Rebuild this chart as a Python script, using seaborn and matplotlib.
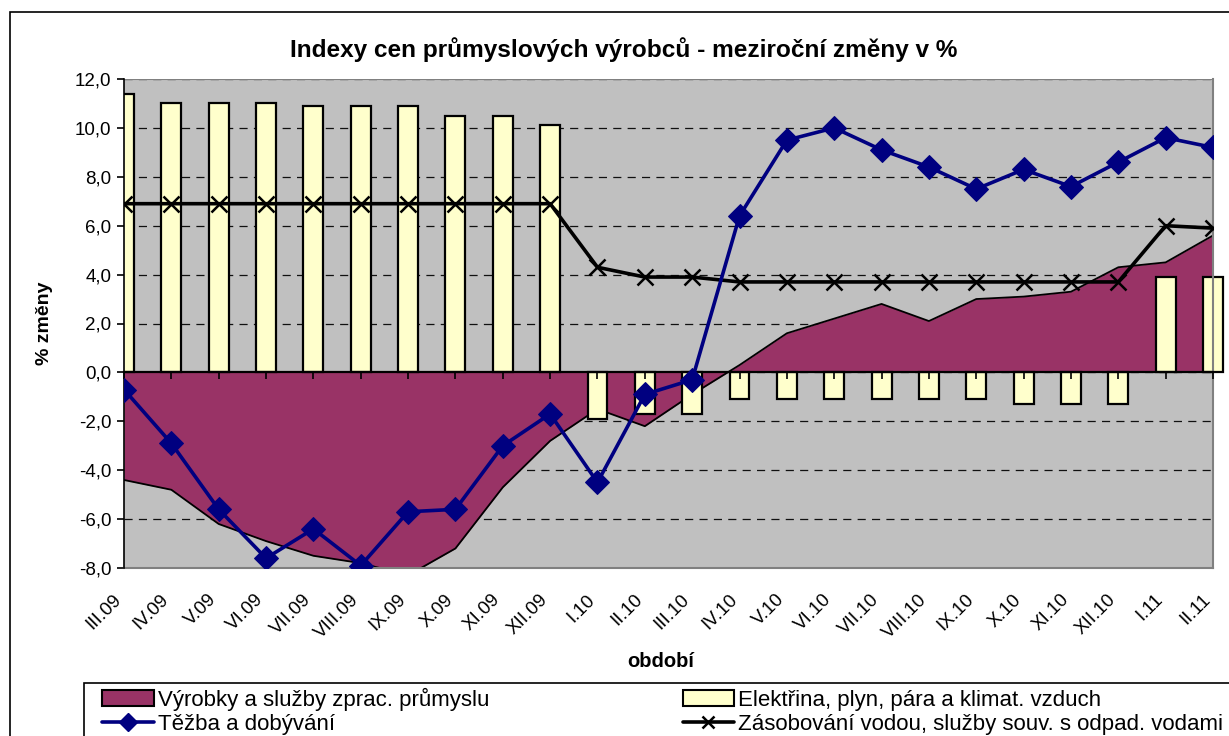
import numpy as np
import pandas as pd
import matplotlib
matplotlib.use('Agg')
import matplotlib.pyplot as plt
import matplotlib.patches as mpatches
import matplotlib.lines as mlines
from matplotlib.transforms import ScaledTranslation
import seaborn as sns

# data - mezirocni zmeny v %
obdobi = ['III.09', 'IV.09', 'V.09', 'VI.09', 'VII.09', 'VIII.09', 'IX.09', 'X.09',
          'XI.09', 'XII.09', 'I.10', 'II.10', 'III.10', 'IV.10', 'V.10', 'VI.10',
          'VII.10', 'VIII.10', 'IX.10', 'X.10', 'XI.10', 'XII.10', 'I.11', 'II.11']
vyrobky = [-4.4, -4.8, -6.2, -6.9, -7.5, -7.8, -8.3, -7.2, -4.7, -2.8, -1.5, -2.2,
           -0.9, 0.3, 1.6, 2.2, 2.8, 2.1, 3.0, 3.1, 3.3, 4.3, 4.5, 5.6]
elektrina = [11.4, 11.0, 11.0, 11.0, 10.9, 10.9, 10.9, 10.5, 10.5, 10.1, -1.9, -1.7,
             -1.7, -1.1, -1.1, -1.1, -1.1, -1.1, -1.1, -1.3, -1.3, -1.3, 3.9, 3.9]
tezba = [-0.7, -2.9, -5.6, -7.6, -6.4, -7.9, -5.7, -5.6, -3.0, -1.7, -4.5, -0.9,
         -0.3, 6.4, 9.5, 10.0, 9.1, 8.4, 7.5, 8.3, 7.6, 8.6, 9.6, 9.2]
zasobovani = [6.9, 6.9, 6.9, 6.9, 6.9, 6.9, 6.9, 6.9, 6.9, 6.9, 4.3, 3.9,
              3.9, 3.7, 3.7, 3.7, 3.7, 3.7, 3.7, 3.7, 3.7, 3.7, 6.0, 5.9]

lbl_vyr = 'Výrobky a služby zprac. průmyslu'
lbl_ele = 'Elektřina, plyn, pára a klimat. vzduch'
lbl_tez = 'Těžba a dobývání'
lbl_zas = 'Zásobování vodou, služby souv. s odpad. vodami'

df = pd.DataFrame({'pos': np.arange(len(obdobi)), 'obdobi': obdobi,
                   'vyrobky': vyrobky, 'elektrina': elektrina,
                   'tezba': tezba, 'zasobovani': zasobovani})

sns.set_theme(style='white', rc={'text.color': 'black', 'axes.labelcolor': 'black',
                                 'xtick.color': 'black', 'ytick.color': 'black'})
plt.rcParams['font.family'] = ['Liberation Sans', 'DejaVu Sans']

W, H = 1229, 736
fig = plt.figure(figsize=(W / 100, H / 100), dpi=100)
ax = fig.add_axes([124 / W, 1 - 568 / H, 1089 / W, 489 / H])
ax.set_facecolor('#C0C0C0')

# area - zpracovatelsky prumysl
ax.fill_between(df['pos'], df['vyrobky'], 0, color='#993366', lw=0, zorder=1.5)
sns.lineplot(data=df, x='pos', y='vyrobky', color='black', lw=1.3, ax=ax, zorder=1.6)

# sloupce - elektrina
sns.barplot(data=df, x='pos', y='elektrina', native_scale=True, width=0.42,
            color='#FFFFCC', saturation=1, edgecolor='black', linewidth=1.6,
            ax=ax, zorder=2)
ax.patches[-1].set_clip_on(False)

# cary
sns.lineplot(data=df, x='pos', y='zasobovani', color='black', lw=2.6, marker='x',
             markersize=11, markeredgewidth=1.8, markeredgecolor='black',
             ax=ax, zorder=3.5)
sns.lineplot(data=df, x='pos', y='tezba', color='#000080', lw=2.6, marker='D',
             markersize=12, markeredgecolor='#000080', markerfacecolor='#000080',
             ax=ax, zorder=4)

ax.set_xlim(0, len(obdobi) - 1)
ax.set_ylim(-8, 12)
yt = np.arange(-8, 13, 2)
ax.set_yticks(yt)
ax.set_yticklabels([f'{v:.1f}'.replace('.', ',') for v in yt])
ax.yaxis.grid(True, linestyle=(0, (6.5, 5)), color='#101010', lw=0.9)
ax.xaxis.grid(False)
ax.yaxis.set_zorder(0.5)
ax.xaxis.set_zorder(2.7)

ax.spines['top'].set_position(('data', 0))
ax.spines['top'].set_color('black')
ax.spines['top'].set_linewidth(1.6)
ax.spines['top'].set_zorder(2.7)
ax.spines['left'].set_color('black')
ax.spines['left'].set_linewidth(1.2)
ax.spines['left'].set_zorder(2.7)
for s in ['bottom', 'right']:
    ax.spines[s].set_color('#808080')
    ax.spines[s].set_linewidth(1.5)
ax.axhline(12, color='#808080', lw=1.5, zorder=2.7)

ax.set_xticks(df['pos'])
ax.set_xticklabels(obdobi, rotation=45, ha='right', va='center', rotation_mode='anchor')
ax.tick_params(axis='x', which='both', top=True, bottom=False, labeltop=False,
               labelbottom=True, direction='in', length=5, width=1.2,
               color='black', pad=21, labelsize=13.5)
ax.tick_params(axis='y', left=True, direction='out', length=5, width=1.2,
               color='black', pad=4, labelsize=13.5)
off = ScaledTranslation(-5 / 100, 0, fig.dpi_scale_trans)
for t in ax.get_xticklabels():
    t.set_transform(t.get_transform() + off)

ax.set_ylabel('% změny', fontsize=14, fontweight='bold')
ax.yaxis.set_label_coords(-0.065, 0.5)
ax.set_xlabel('období', fontsize=14.5, fontweight='bold', va='center')
ax.xaxis.set_label_coords(0.493, -0.192)

fig.text(624 / W, 1 - 50 / H, 'Indexy cen průmyslových výrobců - meziroční změny v %',
         ha='center', va='center', fontsize=17.6, fontweight='bold')

# legenda
handles = [
    mpatches.Patch(facecolor='#993366', edgecolor='black', lw=1.5, label=lbl_vyr),
    mlines.Line2D([], [], color='#000080', lw=2.6, marker='D', ms=9, label=lbl_tez),
    mpatches.Patch(facecolor='#FFFFCC', edgecolor='black', lw=1.5, label=lbl_ele),
    mlines.Line2D([], [], color='black', lw=2.6, marker='x', ms=9, mew=1.8, label=lbl_zas),
]
fig.legend(handles=handles, loc='upper left', bbox_to_anchor=(98 / W, 1 - 683 / H),
           ncol=2, frameon=False, fontsize=16, handlelength=2.3, handleheight=0.7,
           handletextpad=0.2, columnspacing=8.7, borderpad=0.2, labelspacing=0.15,
           borderaxespad=0)
# ramecek legendy (pokracuje za okraj obrazku)
fig.add_artist(mpatches.Rectangle((84 / W, -0.1), 1.2, 0.1 + 1 - 683 / H, fill=False,
                                  edgecolor='black', lw=1.2,
                                  transform=fig.transFigure, clip_on=False))

# ramecek grafu
fig.add_artist(mpatches.Rectangle((10 / W, -0.1), 1.2, 1.1 - 12 / H, fill=False,
                                  edgecolor='black', lw=1.2,
                                  transform=fig.transFigure, clip_on=False))

plt.savefig('out.png', dpi=100)
